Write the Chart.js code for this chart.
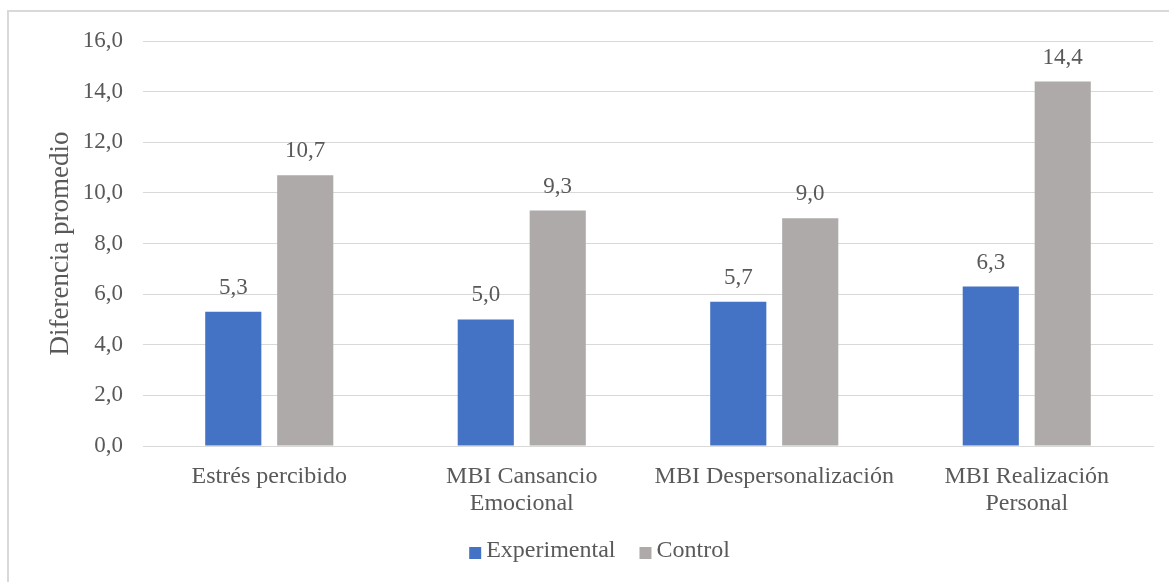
<!DOCTYPE html>
<html>
<head>
<meta charset="utf-8">
<script src="https://cdn.jsdelivr.net/npm/chart.js@4.4.0/dist/chart.umd.min.js"></script>
<style>
  html, body { margin: 0; padding: 0; background: #fff; }
  #frame {
    position: absolute; left: 7px; top: 10px; width: 1180px; height: 590px;
    border: 2px solid #d9d9d9; box-sizing: border-box;
  }
  #wrap { position: absolute; left: 0; top: 0; width: 1169px; height: 582px; }
</style>
</head>
<body>
<div id="frame"></div>
<div id="wrap"><canvas id="grafico"></canvas></div>
<script>
  // Datos del gráfico
  const categorias = ['Estrés percibido', ['MBI Cansancio', 'Emocional'], 'MBI Despersonalización', ['MBI Realización', 'Personal']];
  const experimental = [5.3, 5.0, 5.7, 6.3];
  const control = [10.7, 9.3, 9.0, 14.4];
  const series = ['Experimental', 'Control'];
  const colores = ['#4472C4', '#AEAAAA'];

  const fmt = v => Number(v).toFixed(1).replace('.', ',');
  const texto = '#595959';
  const fuente = '"Liberation Serif", "Times New Roman", serif';

  // Etiquetas de valor sobre cada barra
  const etiquetas = {
    id: 'etiquetas',
    afterDatasetsDraw(chart) {
      const ctx = chart.ctx;
      ctx.save();
      ctx.font = '23px ' + fuente;
      ctx.fillStyle = texto;
      ctx.textAlign = 'center';
      ctx.textBaseline = 'middle';
      chart.data.datasets.forEach((ds, i) => {
        chart.getDatasetMeta(i).data.forEach((bar, j) => {
          ctx.fillText(fmt(ds.data[j]), bar.x, bar.y - 24);
        });
      });
      ctx.restore();
    }
  };

  // Leyenda inferior: cuadro pequeño pegado al texto
  const leyenda = {
    id: 'leyenda',
    afterDraw(chart) {
      const ctx = chart.ctx;
      const caja = 12, hueco = 5, sep = 24, y = 551;
      ctx.save();
      ctx.font = '24px ' + fuente;
      ctx.textBaseline = 'middle';
      const items = chart.data.datasets.map(ds => ({
        label: ds.label, color: ds.backgroundColor, w: ctx.measureText(ds.label).width
      }));
      const total = items.reduce((a, it) => a + caja + hueco + it.w, 0) + sep * (items.length - 1);
      let x = chart.width / 2 + 15 - total / 2;
      items.forEach(it => {
        ctx.fillStyle = it.color;
        ctx.fillRect(x, y - 4, caja, caja);
        x += caja + hueco;
        ctx.fillStyle = texto;
        ctx.fillText(it.label, x, y);
        x += it.w + sep;
      });
      ctx.restore();
    }
  };

  Chart.defaults.font.family = fuente;
  Chart.defaults.color = texto;

  new Chart(document.getElementById('grafico'), {
    type: 'bar',
    data: {
      labels: categorias,
      datasets: [
        { label: series[0], data: experimental, backgroundColor: colores[0] },
        { label: series[1], data: control, backgroundColor: colores[1] }
      ]
    },
    options: {
      responsive: true,
      maintainAspectRatio: false,
      animation: false,
      datasets: { bar: { categoryPercentage: 0.57, barPercentage: 0.78 } },
      layout: { padding: { top: 41, right: 16, left: 0, bottom: 0 } },
      plugins: {
        legend: { display: false },
        tooltip: { enabled: false }
      },
      scales: {
        x: {
          grid: { display: false },
          border: { color: '#d9d9d9' },
          ticks: { font: { size: 24, lineHeight: 1.13 }, padding: 9, maxRotation: 0 },
          afterFit: s => { s.height = 136; }
        },
        y: {
          min: 0, max: 16,
          grid: { color: '#d9d9d9', drawTicks: false },
          border: { display: false },
          ticks: { stepSize: 2, font: { size: 23 }, padding: 20, callback: v => fmt(v) },
          title: { display: true, text: 'Diferencia promedio', font: { size: 27 }, padding: { top: 45 } },
          afterFit: s => { s.width = 143; }
        }
      }
    },
    plugins: [etiquetas, leyenda]
  });
</script>
</body>
</html>
